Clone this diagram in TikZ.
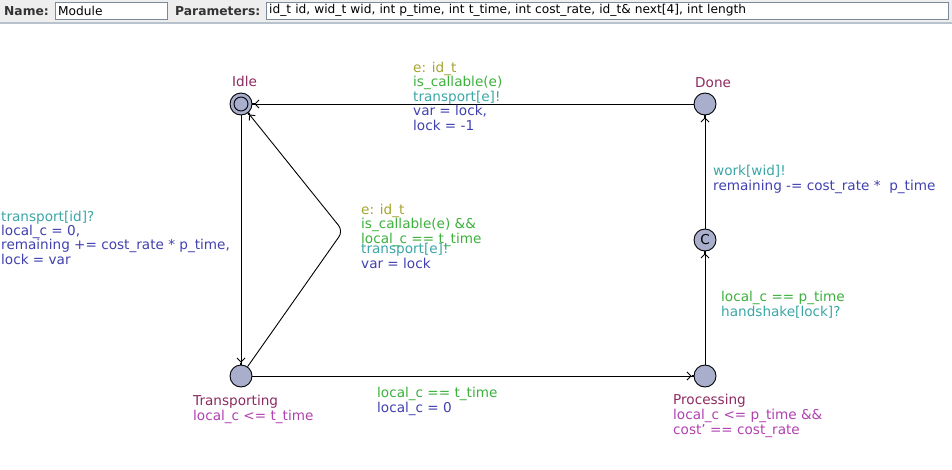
\documentclass[tikz,border=0pt]{standalone}
\usepackage{fontspec}
\setmainfont{DejaVu Sans}
\usetikzlibrary{arrows.meta}

\definecolor{hdrbg}{HTML}{EEEEEE}
\definecolor{hdrline}{HTML}{B8C2CC}
\definecolor{fieldline}{HTML}{7A8A9A}
\definecolor{hdrtext}{HTML}{333333}
\definecolor{locfill}{HTML}{A8AECC}
\definecolor{namecol}{HTML}{8C2A60}
\definecolor{invcol}{HTML}{B040B0}
\definecolor{selcol}{HTML}{A3A32F}
\definecolor{grdcol}{HTML}{3CB03C}
\definecolor{syncol}{HTML}{3AA6A6}
\definecolor{updcol}{HTML}{4040B0}

\tikzset{
  loc/.style={circle, draw, fill=locfill, minimum size=22pt, inner sep=0pt, line width=0.9pt},
  trans/.style={draw, line width=0.9pt,
    -{Straight Barb[length=4pt,width=8pt] Square[length=2pt,width=2pt]}},
  % base west of a multi-line label is the baseline of its last line
  lbl/.style={anchor=base west, inner sep=0pt, align=left,
    font=\fontsize{13.6}{14.4}\selectfont},
  namelbl/.style={lbl, text=namecol},
  invlbl/.style={lbl, text=invcol},
  sellbl/.style={lbl, text=selcol},
  grdlbl/.style={lbl, text=grdcol},
  synlbl/.style={lbl, text=syncol},
  updlbl/.style={lbl, text=updcol},
  field/.style={draw=fieldline, fill=white, anchor=north west, inner xsep=3pt,
    inner ysep=0pt, minimum height=17pt, font=\fontsize{12.2}{13}\selectfont},
  hdrlbl/.style={anchor=base west, inner sep=0pt, text=hdrtext,
    font=\fontsize{12.3}{13}\selectfont\bfseries},
}

\begin{document}
\begin{tikzpicture}[x=1pt, y=-1pt]
  \useasboundingbox (0,0) rectangle (952,469);

  % header bar
  \fill[hdrbg] (0,0) rectangle (952,22);
  \draw[hdrline, line width=1.5pt] (0,23) -- (952,23);
  \node[hdrlbl] (namehdr) at (4,15) {Name:};
  \node[field, text width=106pt] (namefield) at (55,2) {Module};
  \node[hdrlbl] (parhdr) at (175,15) {Parameters:};
  \node[field, text width=676pt] (parfield) at (266,2)
    {id\_t id, wid\_t wid, int p\_time, int t\_time, int cost\_rate, id\_t\& next[4], int length};

  % locations
  \node[loc] (idle) at (241,104) {};
  \draw[line width=0.9pt] (idle.center) circle (7);
  \node[loc] (done) at (705,104) {};
  \node[loc, font=\fontsize{13.6}{14}\selectfont] (commit) at (705,240) {C};
  \node[loc] (proc) at (705,376) {};
  \node[loc] (transp) at (241,376) {};

  \node[namelbl] (idlename) at (232,86) {Idle};
  \node[namelbl] (donename) at (695,87) {Done};
  \node[namelbl] (transpname) at (193,405) {Transporting};
  \node[invlbl] (transpinv) at (193,420) {local\_c <= t\_time};
  \node[namelbl] (procname) at (673,404) {Processing};
  \node[invlbl] (procinv) at (673,434) {local\_c <= p\_time \&\&\\cost' == cost\_rate};

  % edges
  \coordinate (nail) at (343,231);
  \draw[trans] (done) -- (idle);
  \draw[trans] (idle) -- (transp);
  \draw[trans, rounded corners=7pt] (transp) -- (nail) -- (idle);
  \draw[trans] (transp) -- (proc);
  \draw[trans] (proc) -- (commit);
  \draw[trans] (commit) -- (done);

  % done -> idle
  \node[sellbl] (dsel) at (413,72) {e: id\_t};
  \node[grdlbl] (dgrd) at (413,86) {is\_callable(e)};
  \node[synlbl] (dsyn) at (413,101) {transport[e]!};
  \node[updlbl] (dupd) at (413,130) {var = lock,\\lock = -1};

  % idle -> transporting
  \node[synlbl] (isyn) at (1,221) {transport[id]?};
  \node[updlbl] (iupd) at (1,264) {local\_c = 0,\\remaining += cost\_rate * p\_time,\\lock = var};

  % transporting -> idle
  \node[sellbl] (tsel) at (361,214) {e: id\_t};
  \node[grdlbl] (tgrd) at (361,243) {is\_callable(e) \&\&\\local\_c == t\_time};
  \node[synlbl] (tsyn) at (361,253) {transport[e]!};
  \node[updlbl] (tupd) at (361,268) {var = lock};

  % transporting -> processing
  \node[grdlbl] (pgrd) at (377,397) {local\_c == t\_time};
  \node[updlbl] (pupd) at (377,412) {local\_c = 0};

  % processing -> committed
  \node[grdlbl] (cgrd) at (721,301) {local\_c == p\_time};
  \node[synlbl] (csyn) at (721,316) {handshake[lock]?};

  % committed -> done
  \node[synlbl] (wsyn) at (713,175) {work[wid]!};
  \node[updlbl] (wupd) at (713,190) {remaining -= cost\_rate *\ \ p\_time};
\end{tikzpicture}
\end{document}
